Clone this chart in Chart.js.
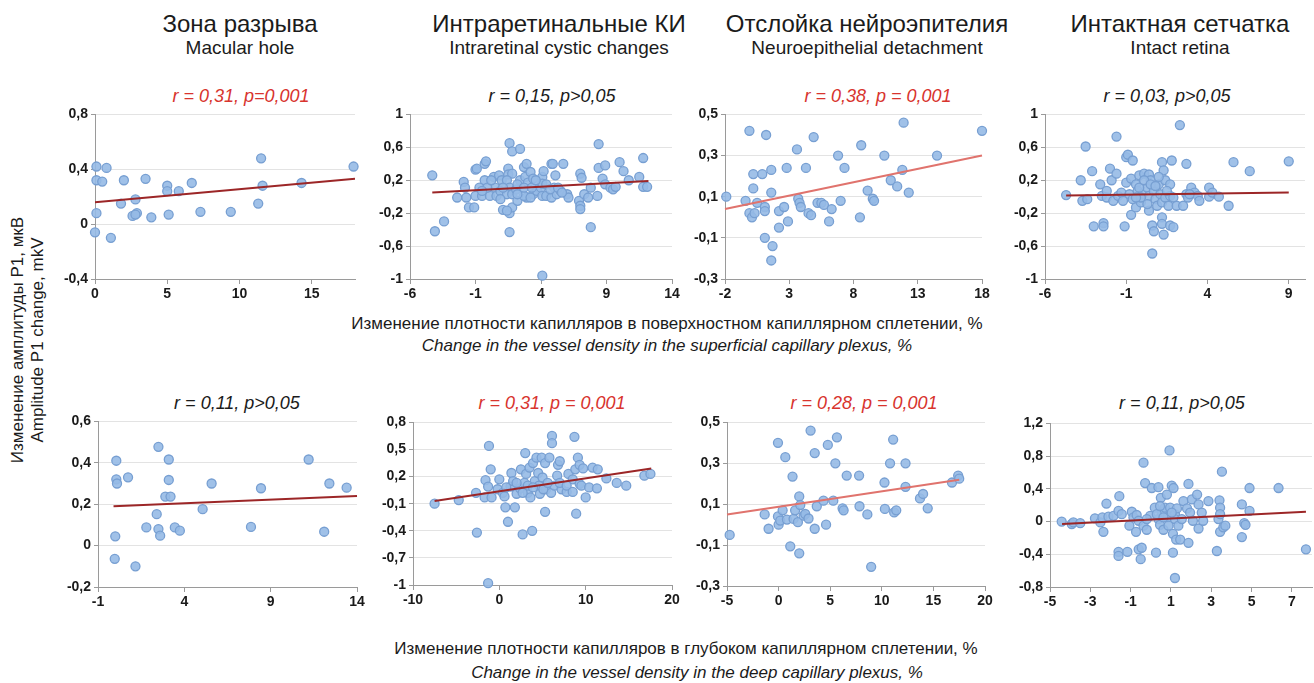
<!DOCTYPE html>
<html>
<head>
<meta charset="utf-8">
<script src="https://cdn.jsdelivr.net/npm/chart.js@4.4.1/dist/chart.umd.min.js"></script>
<style>
  body { margin:0; background:#fff; width:1314px; height:683px; overflow:hidden; position:relative;
         font-family:"Liberation Sans", Arial, sans-serif; color:#1b1b1b; }
  .t { position:absolute; white-space:nowrap; transform:translateX(-50%); line-height:1; }
  .h1 { font-size:24px; }
  .h2 { font-size:19px; }
  .st { font-size:18px; font-style:italic; }
  .ax { font-size:17px; }
  .it { font-style:italic; }
  .red { color:#d8342e; }
  .yt { position:absolute; white-space:nowrap; line-height:1; font-size:17px;
        transform:translate(-50%,-50%) rotate(-90deg); }
  canvas { position:absolute; }
</style>
</head>
<body>

<div class="t h1" style="left:240px;top:12px">Зона разрыва</div>
<div class="t h2" style="left:240px;top:38px">Macular hole</div>
<div class="t h1" style="left:559px;top:12px">Интраретинальные КИ</div>
<div class="t h2" style="left:559px;top:38px">Intraretinal cystic changes</div>
<div class="t h1" style="left:867px;top:12px">Отслойка нейроэпителия</div>
<div class="t h2" style="left:867px;top:38px">Neuroepithelial detachment</div>
<div class="t h1" style="left:1180px;top:12px">Интактная сетчатка</div>
<div class="t h2" style="left:1180px;top:38px">Intact retina</div>

<div class="t ax" style="left:667px;top:315px">Изменение плотности капилляров в поверхностном капиллярном сплетении, %</div>
<div class="t ax it" style="left:667px;top:337px">Change in the vessel density in the superficial capillary plexus, %</div>
<div class="t ax" style="left:686px;top:640px">Изменение плотности капилляров в глубоком капиллярном сплетении, %</div>
<div class="t ax it" style="left:697px;top:664px">Change in the vessel density in the deep capillary plexus, %</div>

<div class="yt" style="left:17px;top:340px">Изменение амплитуды P1, мкВ</div>
<div class="yt" style="left:37px;top:340px">Amplitude P1 change, mkV</div>

<script>
// points as [x, y]
const holeSup = [[0.1,0.42],[0.8,0.41],[0.1,0.32],[0.5,0.31],[2.0,0.32],[3.5,0.33],[0.1,0.08],[0,-0.06],[1.1,-0.10],
  [1.8,0.15],[2.8,0.18],[2.6,0.06],[2.9,0.08],[2.8,0.07],[3.9,0.05],[5.0,0.28],[5.0,0.24],[5.1,0.07],[5.8,0.24],
  [6.7,0.30],[7.3,0.09],[9.4,0.09],[11.5,0.48],[11.3,0.15],[11.6,0.28],[14.3,0.30],[17.9,0.42]];

const cysticSup = [[-4.3,0.26],[-4.1,-0.42],[-3.4,-0.30],[-1.9,0.18],[-1.8,0.11],[-2.4,-0.01],[-1.7,-0.01],[-1.5,-0.13],
  [-1.1,-0.13],[-1.0,0.33],[-0.9,0.34],[-0.3,0.40],[-0.2,0.43],[-0.3,0.20],[-0.7,0.11],[-1.0,0.01],[-0.5,0.01],[0.1,0.01],
  [0.4,0.24],[0.5,0.11],[0.8,0.26],[1.0,0.20],[0.6,0.01],[0.9,0.07],[1.1,-0.16],[1.6,0.65],[1.8,0.55],[2.4,0.58],
  [1.5,0.34],[1.5,0.27],[1.8,0.28],[1.4,0.20],[1.6,0.11],[1.4,0.03],[1.8,0.03],[1.6,-0.20],[1.8,-0.13],[1.4,-0.17],
  [1.6,-0.43],[2.2,-0.05],[2.1,0.09],[2.4,0.20],[2.7,0.36],[2.9,0.40],[2.8,0.24],[3.0,0.17],[2.9,-0.01],[2.7,0.01],
  [3.2,0.30],[3.4,0.22],[3.4,0.03],[3.2,-0.01],[3.7,0.07],[4.0,0.11],[4.1,0.24],[4.2,0.31],[4.1,0.16],[4.1,0.01],
  [4.4,0.01],[4.1,-0.96],[4.8,0.40],[4.9,0.40],[5.1,0.26],[5.0,0.11],[4.8,-0.01],[5.2,0.03],[5.7,0.40],[5.5,0.07],
  [6.0,0.03],[6.1,-0.01],[7.0,0.28],[7.1,0.23],[6.9,-0.05],[7.0,-0.11],[7.0,-0.15],[7.3,0.03],[7.8,0.11],[7.6,-0.01],
  [8.3,0.01],[7.8,-0.37],[8.4,0.64],[8.4,0.35],[8.9,0.38],[8.7,0.22],[8.9,0.15],[9.3,0.11],[9.5,0.09],[9.7,0.12],
  [10.0,0.42],[10.3,0.31],[10.7,0.20],[11.8,0.47],[11.5,0.24],[11.8,0.12],[12.1,0.12],[-0.1,0.11],[0.2,0.20],[1.1,0.11],
  [2.2,0.15],[2.7,0.11],[3.3,0.11],[3.6,0.20],[4.4,0.15],[4.7,0.09],[5.3,0.11],[5.6,0.05],[-0.5,0.07],[0.9,-0.03],[2.2,0.03]];

const detachSup = [[-1.9,0.10],[-0.4,0.08],[-0.1,0.42],[-0.1,0.02],[0.1,0.00],[0.2,0.21],[0.2,0.14],[0.3,0.02],[0.5,0.07],
  [0.9,0.21],[1.2,0.40],[1.1,0.05],[1.1,0.03],[1.1,-0.10],[1.6,0.23],[1.6,0.12],[1.7,-0.14],[1.6,-0.21],[2.2,0.03],
  [2.2,-0.05],[2.6,0.05],[2.8,0.24],[2.9,-0.02],[3.6,0.33],[3.7,0.09],[3.8,0.07],[3.9,0.05],[4.3,0.24],[4.5,0.02],
  [4.7,0.01],[4.9,0.39],[5.2,0.07],[5.5,0.07],[5.7,0.06],[6.1,-0.02],[6.3,0.04],[6.8,0.30],[7.0,0.08],[7.3,0.24],
  [8.5,0.00],[8.6,0.35],[9.1,0.13],[9.5,0.09],[9.6,0.08],[10.4,0.30],[10.9,0.18],[11.4,0.15],[11.8,0.23],[11.9,0.46],
  [12.3,0.12],[14.5,0.30],[18.0,0.42]];

const intactSup = [[-4.7,0.02],[-3.8,0.20],[-3.5,0.61],[-3.7,-0.05],[-3.4,-0.03],[-3.1,0.31],[-3.0,-0.36],[-2.6,0.15],
  [-2.4,-0.32],[-2.4,-0.36],[-2.5,0.01],[-2.2,-0.01],[-2.0,0.34],[-1.9,0.20],[-1.6,0.73],[-1.6,0.28],[-1.8,-0.05],
  [-1.5,0.01],[-1.3,0.05],[-1.1,-0.36],[-1.2,-0.05],[-1.0,0.48],[-0.9,0.51],[-0.6,0.44],[-1.0,0.17],[-0.7,0.22],
  [-0.8,0.03],[-0.7,-0.22],[-0.6,-0.03],[-0.4,0.15],[-0.4,-0.13],[-0.3,0.07],[-0.2,0.26],[-0.1,-0.07],[0.0,0.03],
  [0.1,0.28],[0.3,0.11],[0.4,0.27],[0.4,0.01],[0.4,-0.17],[0.5,0.20],[0.6,-0.35],[0.7,-0.42],[0.6,-0.69],[0.7,0.07],
  [0.8,-0.03],[0.9,-0.11],[1.0,0.15],[1.1,0.03],[1.2,0.42],[1.3,0.32],[1.2,-0.07],[1.2,-0.25],[1.2,-0.33],[1.3,-0.46],
  [1.4,0.20],[1.4,-0.01],[1.6,-0.11],[1.7,0.15],[1.7,0.01],[1.8,0.44],[1.7,-0.35],[1.9,-0.37],[1.9,-0.01],[2.1,-0.11],
  [2.3,0.87],[2.5,-0.11],[2.7,0.40],[2.7,0.03],[2.8,-0.01],[3.0,0.11],[3.2,0.05],[3.4,0.01],[3.5,-0.05],[4.1,0.11],
  [4.1,0.00],[4.3,0.05],[4.7,0.00],[5.3,-0.11],[5.6,0.42],[6.6,0.31],[9.0,0.43],[-0.2,0.11],[0.1,0.20],[0.5,0.15],
  [0.8,0.13],[1.0,0.24],[1.5,0.07],[-0.1,-0.01],[0.3,-0.09],[2.9,0.03],[-0.4,-0.01],[-2.2,0.07]];

const holeDeep = [[0.06,0.41],[0.06,0.32],[0.1,0.30],[0.74,0.33],[0.0,0.045],[-0.03,-0.064],[1.17,-0.10],[1.8,0.088],
  [2.4,0.152],[2.5,0.477],[2.5,0.08],[2.6,0.048],[2.9,0.237],[3.1,0.416],[3.1,0.317],[3.2,0.237],[3.45,0.088],
  [3.74,0.072],[5.06,0.176],[5.58,0.30],[7.86,0.09],[8.44,0.277],[11.2,0.416],[12.1,0.067],[12.4,0.30],[13.4,0.28]];

const cysticDeep = [[-7.5,-0.10],[-4.7,-0.06],[-2.7,0.02],[-2.6,-0.42],[-1.7,-0.03],[-1.6,0.16],[-1.3,0.09],[-1.2,0.54],
  [-1.3,-0.98],[-1.0,0.28],[-0.9,-0.03],[-0.2,0.06],[0.0,0.17],[0.4,0.02],[0.6,-0.02],[0.7,-0.14],[1.0,-0.30],[1.3,0.09],
  [1.4,0.24],[1.6,0.15],[1.8,-0.14],[2.0,0.01],[2.4,0.07],[2.5,0.28],[2.7,-0.44],[2.9,0.13],[3.0,0.46],[3.1,0.23],
  [3.3,0.02],[3.5,0.30],[3.6,-0.03],[3.8,-0.40],[3.9,0.35],[4.1,0.15],[4.3,0.41],[4.5,0.24],[4.6,0.10],[4.7,0.01],
  [4.9,0.41],[5.0,0.19],[5.3,-0.19],[5.3,0.35],[5.4,0.06],[5.8,0.41],[6.0,0.02],[6.1,0.65],[6.1,0.57],[6.4,0.10],
  [6.7,0.21],[6.8,0.33],[7.0,0.37],[7.2,0.06],[7.8,0.03],[8.0,0.23],[8.5,0.17],[8.7,0.64],[8.8,0.28],[8.9,-0.21],
  [9.1,0.41],[9.3,0.33],[9.3,0.12],[9.5,0.10],[9.7,0.29],[10.0,-0.03],[10.4,0.08],[10.8,0.30],[11.4,0.28],[11.3,0.07],
  [12.4,0.18],[13.6,0.13],[14.7,0.10],[16.8,0.21],[17.5,0.23],[0.8,0.08],[2.0,0.13],[3.3,0.10],[3.9,0.08],[5.1,0.06],
  [5.6,0.13],[7.0,0.13],[7.8,0.10],[8.5,0.03],[2.7,0.02]];

const detachDeep = [[-4.74,-0.05],[-1.35,0.05],[-0.97,-0.02],[-0.06,0.40],[-0.06,0.04],[0.0,0.00],[0.16,0.02],[0.39,0.07],
  [0.65,0.33],[0.81,0.025],[1.13,-0.106],[1.35,0.235],[1.45,0.028],[1.6,0.07],[1.87,0.012],[2.0,0.138],[2.0,-0.14],
  [2.1,0.096],[2.42,0.044],[2.58,0.052],[2.9,0.03],[3.1,0.46],[3.5,0.35],[3.5,-0.02],[3.7,0.09],[4.35,0.117],[4.6,0.0],
  [4.77,0.39],[5.3,0.117],[5.5,0.30],[5.65,0.427],[6.2,0.08],[6.3,0.07],[6.6,0.24],[7.8,0.24],[7.84,0.09],[8.6,0.05],
  [8.97,-0.206],[10.26,0.206],[10.3,0.077],[10.8,0.30],[11.1,0.416],[11.2,0.06],[11.4,0.07],[12.3,0.30],[12.3,0.185],
  [13.7,0.128],[14.0,0.15],[14.45,0.08],[16.8,0.206],[17.4,0.24],[17.5,0.225]];

const intactDeep = [[-4.42,0.0],[-3.92,-0.03],[-3.84,-0.01],[-3.5,-0.02],[-2.77,0.04],[-2.5,-0.01],[-2.4,0.05],[-2.35,-0.125],
  [-2.2,0.22],[-2.1,0.06],[-1.85,0.07],[-1.6,0.13],[-1.56,0.31],[-1.6,-0.37],[-1.6,-0.42],[-1.44,0.09],[-1.16,-0.37],
  [-1.06,-0.05],[-0.94,0.12],[-0.86,0.05],[-0.7,0.08],[-0.73,-0.125],[-0.6,0.01],[-0.6,-0.34],[-0.5,-0.46],[-0.45,-0.32],
  [-0.36,0.72],[-0.28,0.47],[-0.36,-0.05],[-0.2,-0.1],[-0.03,0.07],[0.05,0.41],[0.2,0.17],[0.26,-0.38],[0.38,0.42],
  [0.38,0.03],[0.46,-0.04],[0.5,0.29],[0.55,0.11],[0.63,-0.1],[0.7,0.17],[0.8,0.33],[0.83,0.05],[0.88,-0.05],[0.93,0.87],
  [0.96,0.17],[1.04,0.44],[1.1,-0.38],[1.13,0.41],[1.1,-0.15],[1.2,0.09],[1.2,-0.69],[1.2,0.03],[1.3,0.16],[1.26,-0.22],
  [1.37,-0.05],[1.46,-0.22],[1.62,0.25],[1.8,0.16],[1.87,0.46],[1.87,-0.26],[1.95,0.11],[2.04,0.27],[2.09,0.01],[2.3,0.33],
  [2.37,0.21],[2.37,-0.085],[2.53,0.11],[2.6,0.01],[2.86,0.25],[3.28,-0.36],[3.36,0.03],[3.41,0.26],[3.44,0.17],[3.44,0.09],
  [3.44,-0.125],[3.53,0.61],[3.6,-0.07],[3.7,-0.05],[4.52,0.21],[4.52,-0.19],[4.64,-0.02],[4.7,-0.04],[4.9,0.41],[4.9,0.13],
  [6.34,0.41],[7.7,-0.34],[0.3,0.09],[0.63,0.05],[1.04,0.11],[1.54,0.03],[-0.2,0.03],[0.46,0.19]];

// trend line end points
const holeSupTrend = [[0,0.16],[18,0.33]];
const cysticSupTrend = [[-4.3,0.05],[12.2,0.19]];
const detachSupTrend = [[-2,0.04],[18,0.30]];
const intactSupTrend = [[-4.7,0.015],[9,0.05]];
const holeDeepTrend = [[-0.1,0.19],[14,0.24]];
const cysticDeepTrend = [[-7.5,-0.07],[17.6,0.29]];
const detachDeepTrend = [[-5,0.05],[17.5,0.22]];
const intactDeepTrend = [[-4.4,-0.03],[7.7,0.12]];

// tick labels
const holeSupXTicks = [0,5,10,15],        holeSupYTicks = [-0.4,0,0.4,0.8];
const cysticSupXTicks = [-6,-1,4,9,14],   cysticSupYTicks = [-1,-0.6,-0.2,0.2,0.6,1];
const detachSupXTicks = [-2,3,8,13,18],   detachSupYTicks = [-0.3,-0.1,0.1,0.3,0.5];
const intactSupXTicks = [-6,-1,4,9],      intactSupYTicks = [-1,-0.6,-0.2,0.2,0.6,1];
const holeDeepXTicks = [-1,4,9,14],       holeDeepYTicks = [-0.2,0,0.2,0.4,0.6];
const cysticDeepXTicks = [-10,0,10,20],   cysticDeepYTicks = [-1,-0.7,-0.4,-0.1,0.2,0.5,0.8];
const detachDeepXTicks = [-5,0,5,10,15,20], detachDeepYTicks = [-0.3,-0.1,0.1,0.3,0.5];
const intactDeepXTicks = [-5,-3,-1,1,3,5,7], intactDeepYTicks = [-0.8,-0.4,0,0.4,0.8,1.2];

const statLabels = ["r = 0,31, p=0,001", "r = 0,15, p>0,05", "r = 0,38, p = 0,001", "r = 0,03, p>0,05",
                    "r = 0,11, p>0,05", "r = 0,31, p = 0,001", "r = 0,28, p = 0,001", "r = 0,11, p>0,05"];

const DARK = "#9c2627", LIGHT = "#e0736d";

// box = plot area [left, right, top, bottom] in page pixels
const panels = [
  { pts: holeSup,    trend: holeSupTrend,    xt: holeSupXTicks,    yt: holeSupYTicks,    xr: [0,18],   box: [95,355,113,279],   line: DARK,  stat: [241,87,true] },
  { pts: cysticSup,  trend: cysticSupTrend,  xt: cysticSupXTicks,  yt: cysticSupYTicks,  xr: [-6,14],  box: [410,672,113,279],  line: DARK,  stat: [552,87,false] },
  { pts: detachSup,  trend: detachSupTrend,  xt: detachSupXTicks,  yt: detachSupYTicks,  xr: [-2,18],  box: [725,982,113,279],  line: LIGHT, stat: [878,87,true] },
  { pts: intactSup,  trend: intactSupTrend,  xt: intactSupXTicks,  yt: intactSupYTicks,  xr: [-6,10],  box: [1045,1305,113,279], line: DARK,  stat: [1167,87,false] },
  { pts: holeDeep,   trend: holeDeepTrend,   xt: holeDeepXTicks,   yt: holeDeepYTicks,   xr: [-1,14],  box: [98,357,420,587],   line: DARK,  stat: [237,394,false] },
  { pts: cysticDeep, trend: cysticDeepTrend, xt: cysticDeepXTicks, yt: cysticDeepYTicks, xr: [-10,20], box: [413,672,421,585],  line: DARK,  stat: [552,394,true] },
  { pts: detachDeep, trend: detachDeepTrend, xt: detachDeepXTicks, yt: detachDeepYTicks, xr: [-5,20],  box: [727,985,421,586],  line: LIGHT, stat: [864,394,true] },
  { pts: intactDeep, trend: intactDeepTrend, xt: intactDeepXTicks, yt: intactDeepYTicks, xr: [-5,8],   box: [1050,1312,422,587], line: DARK,  stat: [1182,394,false] }
];

const YW = 48, XH = 27, PT = 10, PR = 14;
const tickFont = { family: "Liberation Sans", size: 14, weight: "bold" };
const fmt = v => String(Math.round(v * 10) / 10).replace(".", ",");
const toXY = a => a.map(([x, y]) => ({ x, y }));

panels.forEach((p, i) => {
  const [L, R, T, B] = p.box;

  const st = document.createElement("div");
  st.className = "t st" + (p.stat[2] ? " red" : "");
  st.style.left = p.stat[0] + "px";
  st.style.top = p.stat[1] + "px";
  st.textContent = statLabels[i];
  document.body.appendChild(st);

  const cv = document.createElement("canvas");
  cv.width = R - L + YW + PR;
  cv.height = B - T + PT + XH;
  cv.style.left = (L - YW) + "px";
  cv.style.top = (T - PT) + "px";
  document.body.appendChild(cv);

  new Chart(cv, {
    type: "scatter",
    data: {
      datasets: [
        { type: "line", data: toXY(p.trend), borderColor: p.line, borderWidth: 2, pointRadius: 0,
          fill: false, order: 0, clip: false },
        { data: toXY(p.pts), pointRadius: 4.5, pointBackgroundColor: "rgba(150,186,230,0.9)",
          pointBorderColor: "#779fd2", pointBorderWidth: 1.3, order: 1, clip: false }
      ]
    },
    options: {
      responsive: false,
      animation: false,
      devicePixelRatio: 1,
      layout: { padding: { top: PT, right: PR, left: 0, bottom: 0 } },
      plugins: { legend: { display: false }, tooltip: { enabled: false } },
      scales: {
        x: {
          type: "linear", min: p.xr[0], max: p.xr[1],
          afterBuildTicks: s => { s.ticks = p.xt.map(v => ({ value: v })); },
          afterFit: s => { s.height = XH; },
          grid: { drawOnChartArea: false, tickLength: 5, color: "#9a9a9a" },
          border: { color: "#9a9a9a" },
          ticks: { font: tickFont, color: "#1a1a1a", padding: 2, maxRotation: 0, callback: fmt }
        },
        y: {
          type: "linear", min: p.yt[0], max: p.yt[p.yt.length - 1],
          afterBuildTicks: s => { s.ticks = p.yt.map(v => ({ value: v })); },
          afterFit: s => { s.width = YW; },
          grid: { color: "#e3e3e3", tickLength: 4, tickColor: "#9a9a9a" },
          border: { color: "#9a9a9a" },
          ticks: { font: tickFont, color: "#1a1a1a", padding: 3, callback: fmt }
        }
      }
    }
  });
});
</script>
</body>
</html>
